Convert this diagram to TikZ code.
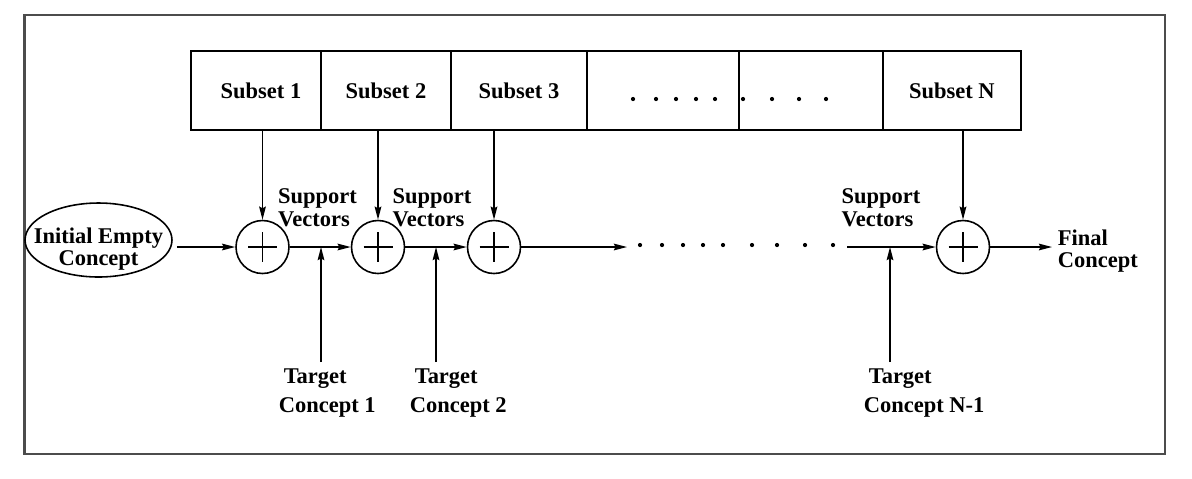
\documentclass[tikz,border=0pt]{standalone}
\usepackage{fontspec}
\setmainfont{Liberation Serif}
\usetikzlibrary{positioning,shapes.geometric,arrows.meta}

\begin{document}
\begin{tikzpicture}[x=0.02cm, y=-0.02cm,
    font=\fontsize{12.8}{13}\selectfont\bfseries,
    line width=0.9pt,
    flow/.style={-{Stealth[length=7.5pt,width=3.8pt,inset=1pt]}},
    subsetbox/.style={rectangle, draw, minimum height=1.58cm, inner sep=0pt, outer sep=0pt},
    sum/.style={circle, draw, minimum size=1.06cm, inner sep=0pt,
        path picture={\draw (path picture bounding box.center) +(-14.5,0) -- +(14.5,0)
            (path picture bounding box.center) +(0,-15) -- +(0,15);}},
    lbl/.style={align=left, inner sep=0pt}]
    \useasboundingbox (0,0) rectangle (1192,478);
    \draw[black!70, line width=1.4pt] (24.5,15) rectangle (1165,454);

    % Training subsets
    \node[subsetbox, minimum width=2.6cm] (s1) at (256,90.5) {\hspace*{0.2cm}Subset 1};
    \node[subsetbox, minimum width=2.6cm, right=0pt of s1] (s2) {Subset 2};
    \node[subsetbox, minimum width=2.72cm, right=0pt of s2] (s3) {Subset 3};
    \node[subsetbox, minimum width=3.04cm, right=0pt of s3] (s4) {};
    \node[subsetbox, minimum width=2.88cm, right=0pt of s4] (s5) {};
    \node[subsetbox, minimum width=2.76cm, right=0pt of s5] (sN) {Subset N};
    \foreach \x in {633,656,676,696,715,743,772,799,826}
        \fill (\x,99) circle (1.2pt);

    % Incremental learning chain
    \node[ellipse, draw, minimum width=2.94cm, minimum height=1.48cm, inner sep=0pt] (init) at (98.5,240) {};
    \node[align=center, inner sep=0pt] (initTxt) at (98.5,249) {Initial Empty\\Concept};
    \node[sum] (c1) at (262.5,247) {};
    \node[sum] (c2) at (378,247) {};
    \node[sum] (c3) at (494,247) {};
    \node[sum] (c4) at (963,247) {};
    \coordinate (dl) at (627,247);
    \coordinate (dr) at (847,247);
    \foreach \x in {640,662,683,703,723,752,777,805,833}
        \fill (\x,245) circle (1.2pt);
    \node[lbl, anchor=west] (fin) at (1057,251) {Final\\Concept};

    \draw[flow] ([xshift=0.08cm]init.east |- c1.west) -- (c1);
    \draw[flow] (c1) -- (c2);
    \draw[flow] (c2) -- (c3);
    \draw[flow] (c3) -- (dl);
    \draw[flow] (dr) -- (c4);
    \draw[flow] (c4) -- ([xshift=-0.1cm]fin.west |- c4);

    % Subsets into the sums
    \draw[flow] (s1.south -| c1) -- (c1);
    \draw[flow] (s2.south -| c2) -- (c2);
    \draw[flow] (s3.south -| c3) -- (c3);
    \draw[flow] (sN.south -| c4) -- (c4);

    % Support vectors
    \node[lbl] (sv1) at (317.5,207.5) {Support\\Vectors};
    \node[lbl] (sv2) at (432,207.5) {Support\\Vectors};
    \node[lbl] (sv3) at (881,207.5) {Support\\Vectors};

    % Target concepts
    \node[lbl, anchor=north west] (tg1) at (278,368) {\hspace*{0.1cm}Target\\[3.5pt]Concept 1};
    \node[lbl, anchor=north west] (tg2) at (409,368) {\hspace*{0.1cm}Target\\[3.5pt]Concept 2};
    \node[lbl, anchor=north west] (tg3) at (863,368) {\hspace*{0.1cm}Target\\[3.5pt]Concept N-1};
    \coordinate (t1) at (321,362);
    \coordinate (t2) at (436,362);
    \coordinate (t3) at (890,362);
    \draw[flow] (t1) -- (t1 |- c1);
    \draw[flow] (t2) -- (t2 |- c2);
    \draw[flow] (t3) -- (t3 |- c4);
\end{tikzpicture}
\end{document}
